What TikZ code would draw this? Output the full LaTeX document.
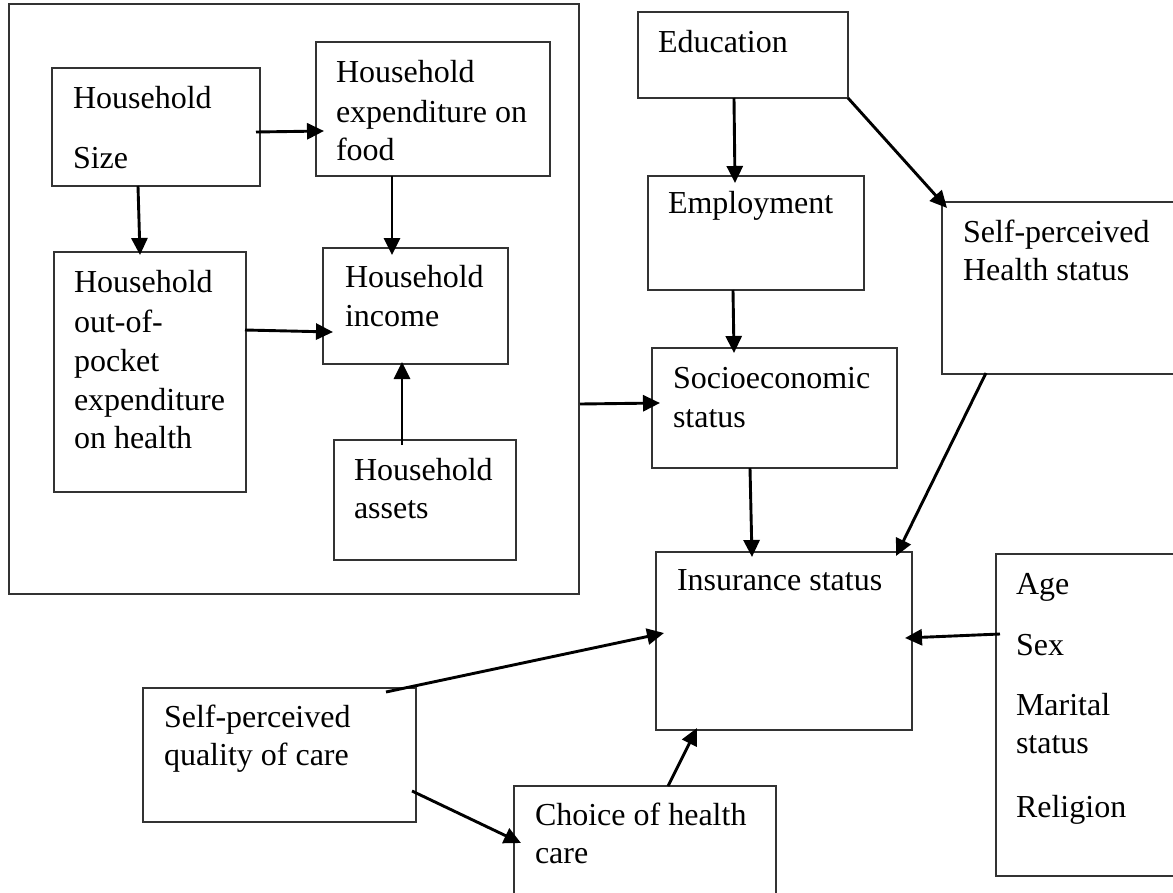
\documentclass[tikz,border=0pt]{standalone}
\usepackage{fontspec}
\setmainfont{Liberation Serif}
\usetikzlibrary{calc,arrows.meta}
\definecolor{boxline}{HTML}{333333}
\tikzset{
  box/.style={draw=boxline, line width=1.7pt, rectangle, inner sep=0pt, outer sep=0pt, anchor=north west},
  txt/.style={anchor=base west, inner sep=0pt, outer sep=0pt, font=\fontsize{32}{39}\selectfont},
  arr/.style={line width=2.9pt, draw=black, -{Triangle[length=17pt,width=16pt]}},
}
\begin{document}
\begin{tikzpicture}[x=1pt,y=-1pt]
\useasboundingbox (0,0) rectangle (1173,892);
\clip (0,0) rectangle (1173,892);
% boxes
\node[box, minimum width=570pt, minimum height=590pt] (outer) at (9,4) {};
\node[box, minimum width=208pt, minimum height=118pt] (size) at (52,68) {};
\node[box, minimum width=234pt, minimum height=134pt] (food) at (316,42) {};
\node[box, minimum width=192pt, minimum height=240pt] (oop) at (54,252) {};
\node[box, minimum width=185pt, minimum height=116pt] (income) at (323,248) {};
\node[box, minimum width=182pt, minimum height=120pt] (assets) at (334,440) {};
\node[box, minimum width=210pt, minimum height=86pt] (edu) at (638,12) {};
\node[box, minimum width=216pt, minimum height=114pt] (emp) at (648,176) {};
\node[box, minimum width=245pt, minimum height=120pt] (socio) at (652,348) {};
\node[box, minimum width=240pt, minimum height=172pt] (sph) at (942,202) {};
\node[box, minimum width=256pt, minimum height=178pt] (ins) at (656,552) {};
\node[box, minimum width=186pt, minimum height=322pt] (age) at (996,554) {};
\node[box, minimum width=273pt, minimum height=134pt] (spq) at (143,688) {};
\node[box, minimum width=262pt, minimum height=120pt] (choice) at (514,786) {};
% texts
\node[txt] (t1) at (73,108) {Household};
\node[txt] (t2) at (73,168) {Size};
\node[txt] (t3) at (336,82) {Household};
\node[txt] (t4) at (336,122) {expenditure on};
\node[txt] (t5) at (336,160) {food};
\node[txt] (t6) at (74,292) {Household};
\node[txt] (t7) at (74,332) {out-of-};
\node[txt] (t8) at (74,371) {pocket};
\node[txt] (t9) at (74,410) {expenditure};
\node[txt] (t10) at (74,448) {on health};
\node[txt] (t11) at (345,287) {Household};
\node[txt] (t12) at (345,326) {income};
\node[txt] (t13) at (354,480) {Household};
\node[txt] (t14) at (354,518) {assets};
\node[txt] (t15) at (658,52) {Education};
\node[txt] (t16) at (668,213) {Employment};
\node[txt] (t17) at (673,388) {Socioeconomic};
\node[txt] (t18) at (673,427) {status};
\node[txt] (t19) at (963,242) {Self-perceived};
\node[txt] (t20) at (963,280) {Health status};
\node[txt] (t21) at (677,590) {Insurance status};
\node[txt] (t22) at (1016,594) {Age};
\node[txt] (t23) at (1016,655) {Sex};
\node[txt] (t24) at (1016,715) {Marital};
\node[txt] (t25) at (1016,753) {status};
\node[txt] (t26) at (1016,817) {Religion};
\node[txt] (t27) at (164,727) {Self-perceived};
\node[txt] (t28) at (164,765) {quality of care};
\node[txt] (t29) at (535,825) {Choice of health};
\node[txt] (t30) at (535,863) {care};
% arrows
\draw[arr] ($(size.north west)+(204,64)$) -- ($(food.north west)+(8,89)$);
\draw[arr] ($(size.north west)+(86,118)$) -- ($(oop.north west)+(86,3)$);
\draw[arr] ($(food.north west)+(76,134)$) -- ($(income.north west)+(69,7)$);
\draw[arr] ($(oop.north west)+(191,78)$) -- ($(income.north west)+(10,84)$);
\draw[arr] ($(assets.north west)+(68,5)$) -- ($(income.north west)+(79,114)$);
\draw[arr] ($(outer.north west)+(571,400)$) -- ($(socio.north west)+(8,55)$);
\draw[arr] ($(edu.north west)+(96,86)$) -- ($(emp.north west)+(87,7)$);
\draw[arr] ($(emp.north west)+(85,114)$) -- ($(socio.north west)+(82,5)$);
\draw[arr] (edu.south east) -- ($(sph.north west)+(5,6)$);
\draw[arr] ($(socio.north west)+(98,120)$) -- ($(ins.north west)+(96,5)$);
\draw[arr] ($(sph.north west)+(44,171)$) -- ($(ins.north west)+(240,4)$);
\draw[arr] ($(age.north west)+(4,80)$) -- ($(ins.north west)+(249,86)$);
\draw[arr] ($(spq.north west)+(243,4)$) -- ($(ins.north west)+(8,81)$);
\draw[arr] ($(spq.north west)+(269,103)$) -- ($(choice.north west)+(7,57)$);
\draw[arr] ($(choice.north west)+(154,0)$) -- ($(ins.north west)+(41,176)$);
\end{tikzpicture}
\end{document}
